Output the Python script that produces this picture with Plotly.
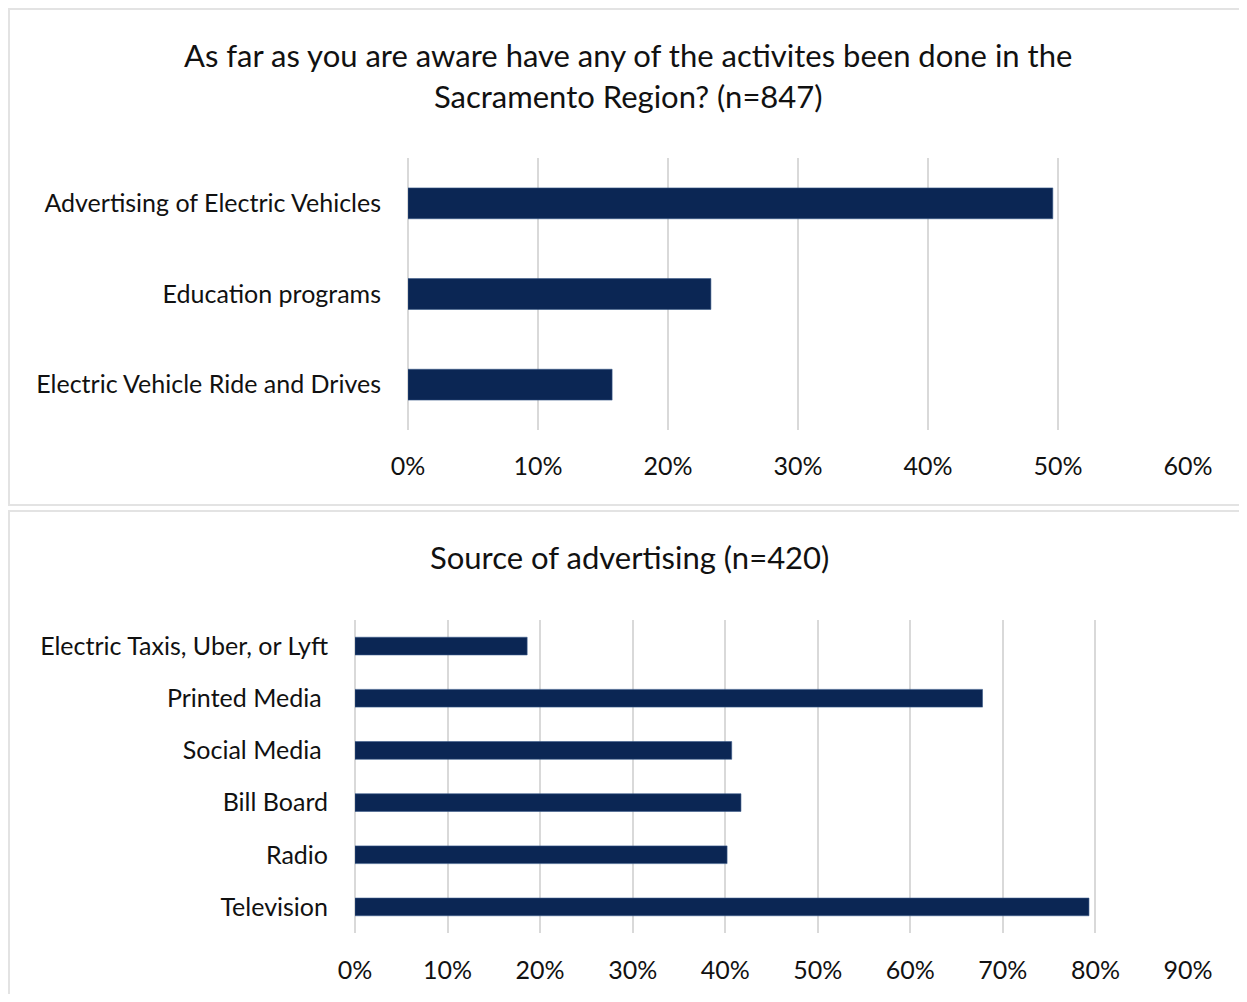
import plotly.graph_objects as go

# ---- data ----
top_categories = ["Advertising of Electric Vehicles", "Education programs", "Electric Vehicle Ride and Drives"]
top_values = [0.496, 0.233, 0.157]
top_ticks = [0, 0.1, 0.2, 0.3, 0.4, 0.5, 0.6]

bottom_categories = ["Electric Taxis, Uber, or Lyft", "Printed Media\u00a0", "Social Media\u00a0",
                     "Bill Board", "Radio", "Television"]
bottom_values = [0.186, 0.678, 0.407, 0.417, 0.402, 0.793]
bottom_ticks = [0, 0.1, 0.2, 0.3, 0.4, 0.5, 0.6, 0.7, 0.8, 0.9]

top_title_lines = ["As far as you are aware have any of the activites been done in the",
                   "Sacramento Region? (n=847)"]
bottom_title = "Source of advertising (n=420)"

# page body has an 8px margin: the figure is sized to fit the window without scrollbars
OFF = 8
W, H = 1247 - 2 * OFF, 1002 - 2 * OFF
FONT = "Lato, Calibri, Carlito, sans-serif"
BAR = "#0b2654"
GRID = "#d9d9d9"
TXT = "#111111"

def px(x):
    return (x - OFF) / W

def py(y):
    return 1 - (y - OFF) / H

fig = go.Figure()
fig.add_trace(go.Bar(x=top_values, y=top_categories, orientation="h",
                     marker=dict(color=BAR, line=dict(color="#3b5a8a", width=0.6)),
                     xaxis="x", yaxis="y", showlegend=False))
fig.add_trace(go.Bar(x=bottom_values, y=bottom_categories, orientation="h",
                     marker=dict(color=BAR, line=dict(color="#3b5a8a", width=0.6)),
                     xaxis="x2", yaxis="y2", showlegend=False))

axis_font = dict(family=FONT, size=25, color=TXT)

fig.update_layout(
    width=W, height=H,
    margin=dict(l=0, r=0, t=0, b=0, pad=0, autoexpand=False),
    paper_bgcolor="white", plot_bgcolor="white",
    bargap=0.66,
    font=dict(family=FONT, color=TXT),
    xaxis=dict(domain=[px(408), px(1188)], anchor="y", range=[0, 0.6], automargin=False,
               tickvals=top_ticks, tickformat=".0%", showgrid=True, gridcolor=GRID,
               gridwidth=1.5, zeroline=True, zerolinecolor=GRID, zerolinewidth=1.5,
               showline=False, ticks="", tickfont=axis_font, ticklabelstandoff=19,
               fixedrange=True),
    yaxis=dict(domain=[py(430), py(158)], anchor="x", autorange="reversed", automargin=False,
               categoryorder="array", categoryarray=top_categories,
               showgrid=False, showline=False, ticks="", tickfont=axis_font,
               ticklabelstandoff=26, fixedrange=True),
    xaxis2=dict(domain=[px(355), px(1188)], anchor="y2", range=[0, 0.9], automargin=False,
                tickvals=bottom_ticks, tickformat=".0%", showgrid=True, gridcolor=GRID,
                gridwidth=1.5, zeroline=True, zerolinecolor=GRID, zerolinewidth=1.5,
                showline=False, ticks="", tickfont=axis_font, ticklabelstandoff=20,
                fixedrange=True),
    yaxis2=dict(domain=[py(933), py(620)], anchor="x2", autorange="reversed", automargin=False,
                categoryorder="array", categoryarray=bottom_categories,
                showgrid=False, showline=False, ticks="", tickfont=axis_font,
                ticklabelstandoff=26, fixedrange=True),
)

# panel borders
for (y0, y1) in [(9, 505), (511, 1010)]:
    fig.add_shape(type="rect", xref="paper", yref="paper",
                  x0=px(9), x1=px(1252), y0=py(y1), y1=py(y0),
                  line=dict(color="#e3e3e3", width=2), fillcolor="rgba(0,0,0,0)", layer="below")

title_font = dict(family=FONT, size=31, color=TXT)
for text, yc in zip(top_title_lines, [55, 96]):
    fig.add_annotation(text=text, xref="paper", yref="paper", x=px(628), y=py(yc),
                       xanchor="center", yanchor="middle", showarrow=False, font=title_font)
fig.add_annotation(text=bottom_title, xref="paper", yref="paper", x=px(629), y=py(557),
                   xanchor="center", yanchor="middle", showarrow=False, font=title_font)

fig.write_html("out.html")
